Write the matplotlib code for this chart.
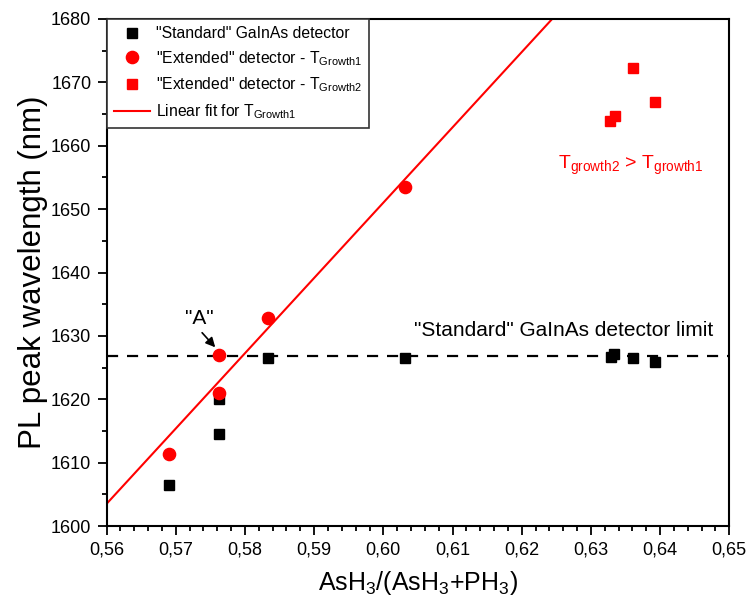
import numpy as np
import matplotlib
matplotlib.use('Agg')
import matplotlib.pyplot as plt
from matplotlib.ticker import MultipleLocator, FuncFormatter

plt.rcParams['font.family'] = ['Liberation Sans', 'DejaVu Sans']
plt.rcParams['mathtext.default'] = 'regular'

# "Standard" GaInAs detector
x_std = [0.5690, 0.5762, 0.5762, 0.5833, 0.6031, 0.6329, 0.6334, 0.6361, 0.6392]
y_std = [1606.5, 1614.5, 1620.0, 1626.5, 1626.5, 1626.7, 1627.1, 1626.5, 1625.9]

# "Extended" detector - T_Growth1
x_ext1 = [0.5690, 0.5762, 0.5762, 0.5833, 0.6031]
y_ext1 = [1611.3, 1621.0, 1627.0, 1632.8, 1653.5]

# "Extended" detector - T_Growth2
x_ext2 = [0.6328, 0.6335, 0.6361, 0.6392]
y_ext2 = [1663.9, 1664.7, 1672.2, 1666.9]

std_limit = 1626.8

fig = plt.figure(figsize=(7.51, 6.07), dpi=100)
ax = fig.add_axes([0.142, 0.1334, 0.829, 0.8353])

ax.axhline(std_limit, color='k', linestyle=(0, (5, 4)), linewidth=1.6, zorder=1)

# Linear fit of the Growth1 points
p = np.polyfit(x_ext1, y_ext1, 1)
xf = np.array([0.55, 0.66])
ax.plot(xf, np.polyval(p, xf), color='#ff0000', linewidth=1.5, zorder=2,
        label='Linear fit for T$_{Growth1}$')

ax.plot(x_std, y_std, 's', color='k', markersize=7.5, linestyle='none', zorder=3,
        label='"Standard" GaInAs detector')
ax.plot(x_ext1, y_ext1, 'o', color='#ff0000', markersize=8.8, linestyle='none', zorder=4,
        label='"Extended" detector - T$_{Growth1}$')
ax.plot(x_ext2, y_ext2, 's', color='#ff0000', markersize=7.7, linestyle='none', zorder=4,
        label='"Extended" detector - T$_{Growth2}$')

ax.set_xlim(0.56, 0.65)
ax.set_ylim(1600, 1680)
ax.xaxis.set_major_locator(MultipleLocator(0.01))
ax.xaxis.set_minor_locator(MultipleLocator(0.002))
ax.yaxis.set_major_locator(MultipleLocator(10))
ax.yaxis.set_minor_locator(MultipleLocator(5))
ax.xaxis.set_major_formatter(FuncFormatter(lambda v, pos: ('%.2f' % v).replace('.', ',')))
ax.tick_params(which='both', direction='out', top=False, right=False, labelsize=13, width=1.3)
ax.tick_params(which='major', length=6.5, pad=4.5)
ax.tick_params(which='minor', length=3.5)
for s in ax.spines.values():
    s.set_linewidth(1.5)

ax.set_xlabel('AsH$_3$/(AsH$_3$+PH$_3$)', fontsize=18, labelpad=8)
ax.set_ylabel('PL peak wavelength (nm)', fontsize=22.5, labelpad=2)

ax.text(0.6045, 1629.3, '"Standard" GaInAs detector limit', fontsize=15, ha='left', va='bottom')
ax.text(0.6357, 1656.9, 'T$_{growth2}$ > T$_{growth1}$', fontsize=14, color='#ff0000',
        ha='center', va='center')
ax.text(0.5734, 1632.8, '"A"', fontsize=15, ha='center', va='center')
ax.annotate('', xy=(0.5757, 1628.2), xytext=(0.5738, 1630.5),
            arrowprops=dict(arrowstyle='-|>', color='k', lw=1.2, mutation_scale=14,
                            shrinkA=0, shrinkB=0))

handles, labels = ax.get_legend_handles_labels()
order = [1, 2, 3, 0]
leg = ax.legend([handles[i] for i in order], [labels[i] for i in order],
                loc='upper left', fontsize=11.3, frameon=True, fancybox=False,
                edgecolor='#333333', framealpha=1, borderaxespad=0,
                handlelength=2.3, handletextpad=0.4, labelspacing=0.5,
                borderpad=0.45)
leg.get_frame().set_linewidth(1.2)

fig.savefig('out.png', dpi=100)
